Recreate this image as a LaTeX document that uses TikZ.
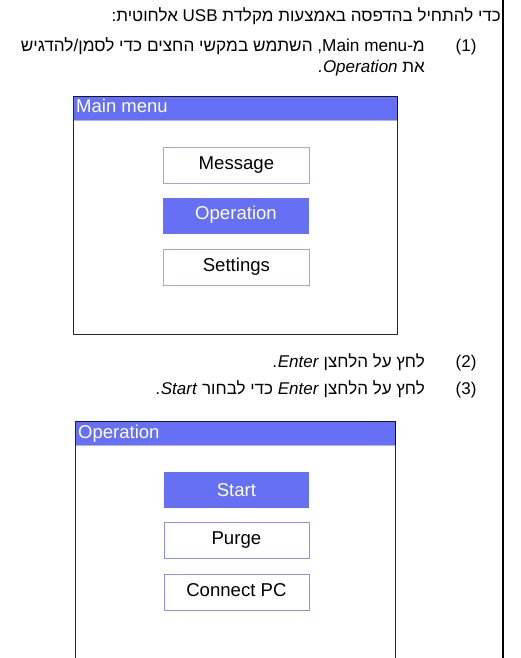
\documentclass[tikz,border=0pt]{standalone}
\usepackage{fontspec}
\setmainfont{Liberation Sans}
\TeXXeTstate=1
\newfontfamily\hebfont[Script=Hebrew]{Liberation Sans}
\definecolor{hl}{RGB}{102,112,245}
\definecolor{hlline}{RGB}{175,180,225}
\definecolor{btnedge}{RGB}{165,168,205}
\definecolor{btnedgeb}{RGB}{140,145,225}
\definecolor{navy}{RGB}{20,20,60}
\newcommand{\he}[1]{{\hebfont\beginR #1\endR}}
\tikzset{
  px/.style={x=1pt,y=-1pt},
  bodytext/.style={inner sep=0pt,font=\fontsize{17pt}{20pt}\selectfont,text=black},
  panel/.style={draw=black!85,line width=0.8pt,fill=white},
  header/.style={fill=hl,draw=none},
  headtext/.style={inner sep=0pt,anchor=base west,text=white,font=\fontsize{18.5pt}{22pt}\selectfont},
  btn/.style={draw=btnedge,line width=0.7pt,fill=white,minimum width=146.5pt,minimum height=36pt,inner sep=0pt,text=black,text height=13pt,text depth=4pt,font=\fontsize{18.6pt}{22pt}\selectfont},
  btnb/.style={btn,draw=btnedgeb,minimum width=145pt,minimum height=36pt},
  btnon/.style={btn,draw=none,fill=hl,text=white}
}
\begin{document}
\begin{tikzpicture}[px]
\useasboundingbox (0,0) rectangle (520,658);
\fill[white] (0,0) rectangle (520,658);
\coordinate (railtop) at (503.2,0);
\coordinate (railbot) at (503.2,658);
\draw[line width=1.9pt,black] (railtop) -- (railbot);
\node[bodytext,anchor=base east] (intro) at (501,21.5) {\he{כדי להתחיל בהדפסה באמצעות מקלדת USB אלחוטית:}};
\node[bodytext,anchor=base east] (n1) at (476.7,52) {(1)};
\node[bodytext,anchor=base east,font=\fontsize{17.2pt}{20pt}\selectfont] (s1a) at (425,52) {\he{מ-\beginL Main menu\endL, השתמש במקשי החצים כדי לסמן/להדגיש}};
\node[bodytext,anchor=base east] (s1b) at (425,72.5) {\he{את \beginL\textit{.Operation}\endL}};
% panel 1
\draw[panel] (73.8,96.6) rectangle (397.2,334.2);
\fill[header] (74.2,97) rectangle (396.8,119.6);
\draw[hlline,line width=0.7pt] (74.2,119.9) -- (396.8,119.9);
\draw[navy,line width=0.8pt] (73.8,96.6) -- (397.2,96.6) -- (397.2,120);
\node[headtext] (t1) at (76,113) {Main menu};
\node[btn] (m1) at (236.4,165.3) {Message};
\node[btnon,text height=11pt] (m2) at (236,215.8) {Operation};
\node[btn] (m3) at (236.4,267.1) {Settings};
\node[bodytext,anchor=base east] (n2) at (476.7,367.7) {(2)};
\node[bodytext,anchor=base east] (s2) at (425,367.7) {\he{לחץ על הלחצן \beginL\textit{.Enter}\endL}};
\node[bodytext,anchor=base east] (n3) at (476.7,394) {(3)};
\node[bodytext,anchor=base east] (s3) at (425,394) {\he{לחץ על הלחצן \beginL\textit{Enter}\endL{} כדי לבחור \beginL\textit{.Start}\endL}};
% panel 2
\draw[panel] (75.6,421.7) rectangle (395.5,670);
\fill[header] (76,422.1) rectangle (395.1,444.6);
\draw[hlline,line width=0.7pt] (76,445) -- (395.1,445);
\draw[navy,line width=0.8pt] (75.6,421.7) -- (395.5,421.7) -- (395.5,445);
\node[headtext] (t2) at (78,438) {Operation};
\node[btnon,text height=16pt,minimum width=145pt] (o1) at (236.4,490.3) {Start};
\node[btnb,text height=12pt] (o2) at (236.4,540.8) {Purge};
\node[btnb,text height=12pt] (o3) at (236.4,592) {Connect PC};
\end{tikzpicture}
\end{document}
